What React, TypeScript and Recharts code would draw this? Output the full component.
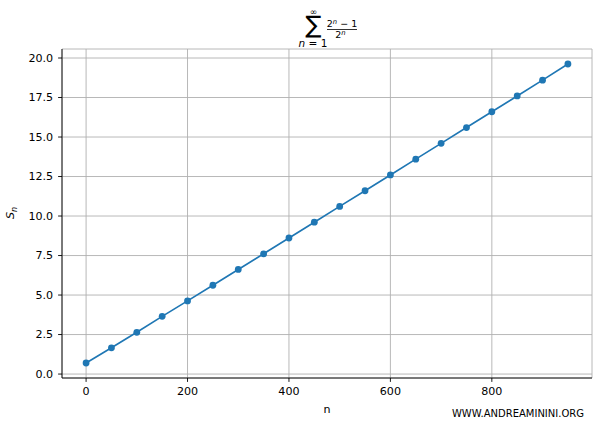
import React from "react";
import {
  LineChart,
  Line,
  XAxis,
  YAxis,
  CartesianGrid,
} from "recharts";

const nValues = [0, 50, 100, 150, 200, 250, 300, 350, 400, 450, 500, 550, 600, 650, 700, 750, 800, 850, 900, 950];
const sValues = [0.7, 1.66, 2.64, 3.65, 4.63, 5.62, 6.62, 7.61, 8.61, 9.61, 10.61, 11.6, 12.6, 13.6, 14.6, 15.6, 16.6, 17.6, 18.6, 19.62];
const xTicks = [0, 200, 400, 600, 800];
const yTicks = [0, 2.5, 5, 7.5, 10, 12.5, 15, 17.5, 20];
const yTickLabels = ["0.0", "2.5", "5.0", "7.5", "10.0", "12.5", "15.0", "17.5", "20.0"];

const data = nValues.map((n, i) => ({ n, s: sValues[i] }));

const FONT = "'DejaVu Sans', sans-serif";
const BLUE = "#1f77b4";

export default function App() {
  return (
    <div style={{ position: "relative", width: 600, height: 424 }}>
      <style>{"body{margin:0;}"}</style>
      <LineChart
        width={600}
        height={424}
        data={data}
        margin={{ top: 49, right: 8, bottom: 0, left: 0 }}
        style={{ background: "#ffffff" }}
      >
        <CartesianGrid stroke="#b0b0b0" strokeWidth={0.9} horizontal vertical />
        <XAxis
          dataKey="n"
          type="number"
          domain={[-47.5, 997.5]}
          ticks={xTicks}
          allowDataOverflow
          height={46}
          tickSize={3.9}
          tickMargin={5}
          axisLine={{ stroke: "#000", strokeWidth: 0.9 }}
          tickLine={{ stroke: "#000", strokeWidth: 0.9 }}
          tick={{ fill: "#000", fontSize: 11.1, fontFamily: FONT }}
        />
        <XAxis
          xAxisId="top"
          orientation="top"
          dataKey="n"
          type="number"
          domain={[-47.5, 997.5]}
          height={0}
          tick={false}
          tickLine={false}
          axisLine={{ stroke: "#000", strokeWidth: 0.9 }}
        />
        <YAxis
          type="number"
          domain={[-0.25, 20.57]}
          ticks={yTicks}
          allowDataOverflow
          width={62}
          tickSize={3.9}
          tickMargin={5}
          tickFormatter={(v: number) => yTickLabels[yTicks.indexOf(v)] ?? String(v)}
          axisLine={{ stroke: "#000", strokeWidth: 0.9 }}
          tickLine={{ stroke: "#000", strokeWidth: 0.9 }}
          tick={{ fill: "#000", fontSize: 11.1, fontFamily: FONT }}
        />
        <YAxis
          yAxisId="right"
          orientation="right"
          type="number"
          domain={[-0.25, 20.57]}
          width={0}
          tick={false}
          tickLine={false}
          axisLine={{ stroke: "#000", strokeWidth: 0.9 }}
        />
        <Line
          dataKey="s"
          type="linear"
          stroke={BLUE}
          strokeWidth={1.67}
          dot={{ r: 3.4, fill: BLUE, stroke: BLUE, strokeWidth: 0 }}
          activeDot={false}
          isAnimationActive={false}
        />
      </LineChart>
      <svg
        width={600}
        height={424}
        style={{ position: "absolute", left: 0, top: 0, pointerEvents: "none" }}
        fontFamily={FONT}
      >
        {/* title: sum from n=1 to infinity of (2^n - 1)/2^n */}
        <text x={313.5} y={14.5} fontSize={9} textAnchor="middle" fill="#000">∞</text>
        <text x={313.5} y={33} fontSize={24} textAnchor="middle" fill="#000">∑</text>
        <text x={313} y={47} fontSize={10.5} textAnchor="middle" fill="#000">
          <tspan fontStyle="italic">n</tspan>
          <tspan>{" = 1"}</tspan>
        </text>
        <text x={342} y={27.3} fontSize={9.5} textAnchor="middle" fill="#000">
          <tspan>2</tspan>
          <tspan fontStyle="italic" fontSize={6.8} dy={-3.5}>n</tspan>
          <tspan dy={3.5}>{" − 1"}</tspan>
        </text>
        <line x1={327} x2={357} y1={29.5} y2={29.5} stroke="#000" strokeWidth={0.8} />
        <text x={340.5} y={38.3} fontSize={9.5} textAnchor="middle" fill="#000">
          <tspan>2</tspan>
          <tspan fontStyle="italic" fontSize={6.8} dy={-3.5}>n</tspan>
        </text>
        {/* axis labels */}
        <text x={327} y={412.5} fontSize={11.1} textAnchor="middle" fill="#000">n</text>
        <text transform="translate(14,213) rotate(-90)" x={0} y={0} fontSize={11.1} textAnchor="middle" fill="#000">
          <tspan fontStyle="italic">S</tspan>
          <tspan fontStyle="italic" fontSize={8} dy={2.5}>n</tspan>
        </text>
        {/* watermark */}
        <text x={584} y={416.8} fontSize={10} textAnchor="end" fill="#000">WWW.ANDREAMININI.ORG</text>
      </svg>
    </div>
  );
}
